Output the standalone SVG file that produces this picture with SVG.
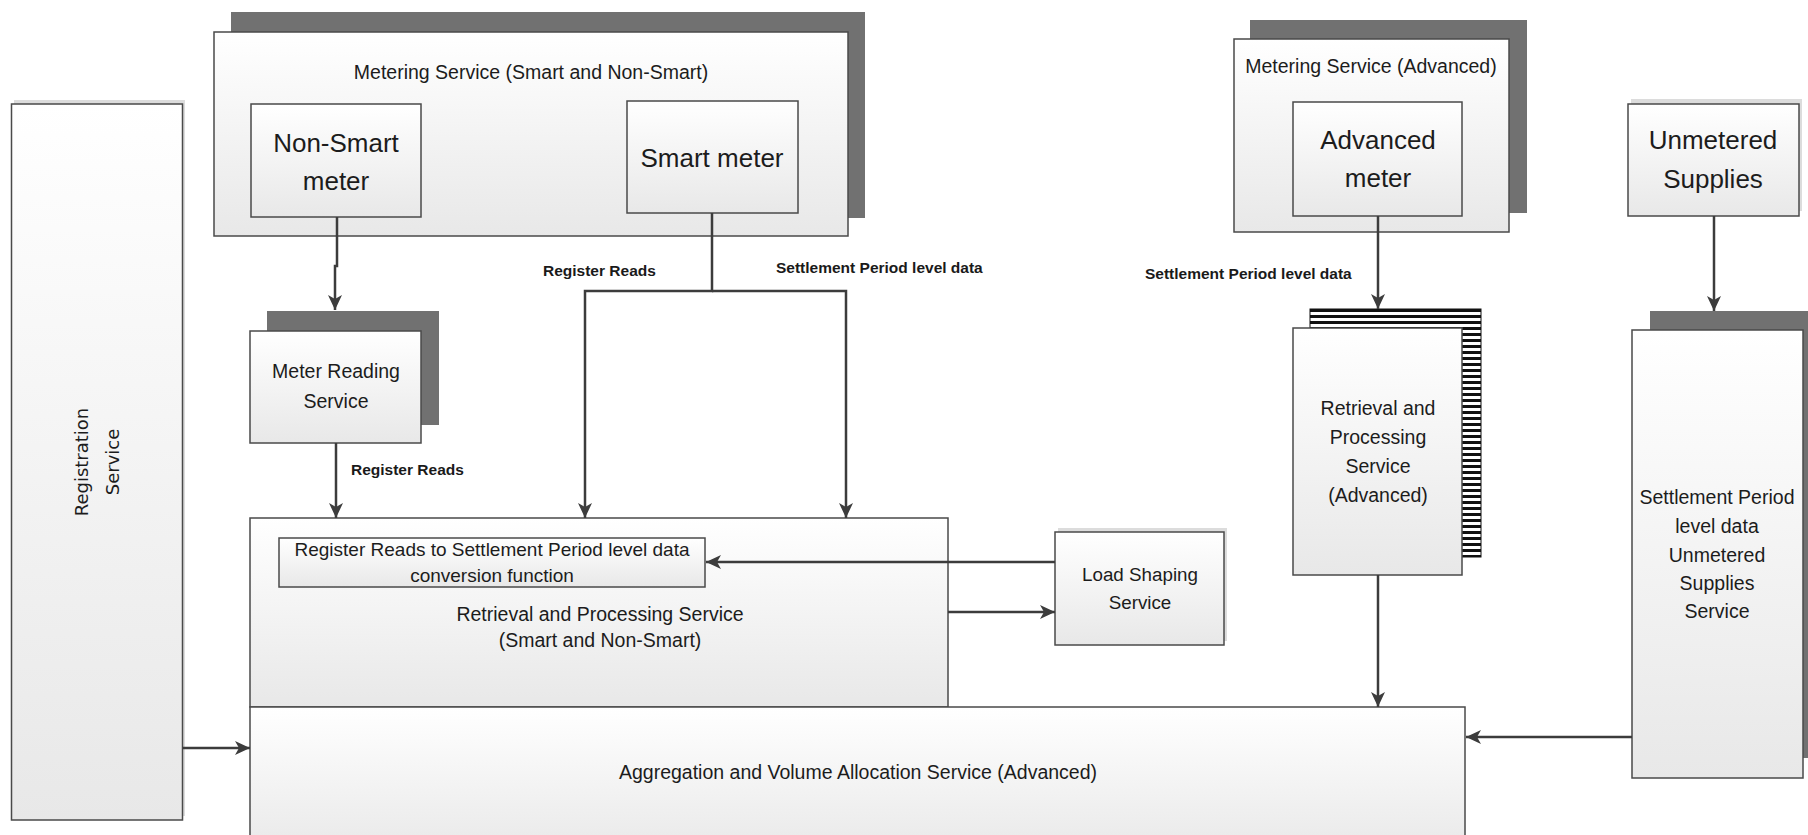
<svg xmlns="http://www.w3.org/2000/svg" width="1808" height="835" viewBox="0 0 1808 835">
  <defs>
    <linearGradient id="boxFill" x1="0" y1="0" x2="0" y2="1">
      <stop offset="0" stop-color="#ffffff"/>
      <stop offset="1" stop-color="#e8e8e8"/>
    </linearGradient>
    <pattern id="stripes" patternUnits="userSpaceOnUse" x="0" y="309" width="6" height="6">
      <rect x="0" y="0" width="6" height="6" fill="#ffffff"/>
      <rect x="0" y="0" width="6" height="3" fill="#111111"/>
    </pattern>
    <marker id="arrow" markerUnits="userSpaceOnUse" markerWidth="18" markerHeight="16" viewBox="-16 -8 18 16" refX="0" refY="0" orient="auto">
      <path d="M0,0 L-15,-7 L-11,0 L-15,7 Z" fill="#3c3c3c"/>
    </marker>
    <style>
      .box { fill: url(#boxFill); stroke: #4a4a4a; stroke-width: 1.5; }
      .shadow { fill: #717171; }
      .haze { fill: #dcdcdc; }
      .stripe { fill: url(#stripes); stroke: #111111; stroke-width: 1; }
      .t { font-family: "Liberation Sans", Arial, sans-serif; fill: #1c1c1c; text-anchor: middle; }
      .big { font-size: 26px; }
      .mid { font-size: 19.5px; }
      .lbl { font-family: "Liberation Sans", Arial, sans-serif; font-size: 15.5px; font-weight: bold; fill: #1a1a1a; }
      .rot { font-family: "DejaVu Sans", Verdana, sans-serif; font-size: 18px; fill: #1c1c1c; text-anchor: middle; }
      .conn { fill: none; stroke: #3c3c3c; stroke-width: 2.5; }
      .arr { marker-end: url(#arrow); }
    </style>
  </defs>

  <rect width="1808" height="835" fill="#ffffff"/>

  <!-- Registration Service -->
  <g id="registration-service">
    <rect class="haze" x="14" y="100" width="171" height="716"/>
    <rect class="box" x="11.5" y="104" width="171" height="716"/>
    <g transform="translate(97,462) rotate(-90)">
      <text class="rot" x="0" y="-9">Registration</text>
      <text class="rot" x="0" y="22">Service</text>
    </g>
  </g>

  <!-- Metering Service (Smart and Non-Smart) -->
  <g id="metering-service-smart">
    <rect class="shadow" x="231" y="12" width="634" height="206"/>
    <rect class="box" x="214" y="32" width="634" height="204"/>
    <text class="t mid" x="531" y="79">Metering Service (Smart and Non-Smart)</text>
  </g>

  <g id="non-smart-meter">
    <rect class="box" x="251" y="104" width="170" height="113"/>
    <text class="t big" x="336" y="152">Non-Smart</text>
    <text class="t big" x="336" y="190">meter</text>
  </g>

  <g id="smart-meter">
    <rect class="box" x="627" y="101" width="171" height="112"/>
    <text class="t big" x="712" y="167">Smart meter</text>
  </g>

  <!-- Meter Reading Service -->
  <g id="meter-reading-service">
    <rect class="shadow" x="267" y="311" width="172" height="114"/>
    <rect class="box" x="250" y="331" width="171" height="112"/>
    <text class="t mid" x="336" y="378">Meter Reading</text>
    <text class="t mid" x="336" y="408">Service</text>
  </g>

  <!-- Metering Service (Advanced) -->
  <g id="metering-service-advanced">
    <rect class="shadow" x="1250" y="20" width="277" height="193"/>
    <rect class="box" x="1234" y="39" width="275" height="193"/>
    <text class="t mid" x="1371" y="73">Metering Service (Advanced)</text>
  </g>

  <g id="advanced-meter">
    <rect class="box" x="1293" y="102" width="169" height="114"/>
    <text class="t big" x="1378" y="149">Advanced</text>
    <text class="t big" x="1378" y="187">meter</text>
  </g>

  <!-- Unmetered Supplies -->
  <g id="unmetered-supplies">
    <rect class="haze" x="1631" y="99" width="171" height="112"/>
    <rect class="box" x="1628" y="104" width="171" height="112"/>
    <text class="t big" x="1713" y="149">Unmetered</text>
    <text class="t big" x="1713" y="188">Supplies</text>
  </g>

  <!-- Retrieval and Processing Service (Advanced) -->
  <g id="retrieval-processing-advanced">
    <rect class="stripe" x="1310" y="309" width="171" height="248"/>
    <rect class="box" x="1293" y="328" width="169" height="247"/>
    <text class="t mid" x="1378" y="415">Retrieval and</text>
    <text class="t mid" x="1378" y="444">Processing</text>
    <text class="t mid" x="1378" y="473">Service</text>
    <text class="t mid" x="1378" y="502">(Advanced)</text>
  </g>

  <!-- Settlement Period level data Unmetered Supplies Service -->
  <g id="unmetered-supplies-service">
    <rect class="shadow" x="1650" y="311" width="171" height="447"/>
    <rect class="box" x="1632" y="330" width="171" height="448"/>
    <text class="t mid" x="1717" y="504">Settlement Period</text>
    <text class="t mid" x="1717" y="533">level data</text>
    <text class="t mid" x="1717" y="562">Unmetered</text>
    <text class="t mid" x="1717" y="590">Supplies</text>
    <text class="t mid" x="1717" y="618">Service</text>
  </g>

  <!-- Retrieval and Processing Service (Smart and Non-Smart) -->
  <g id="retrieval-processing-smart">
    <rect class="box" x="250" y="518" width="698" height="189"/>
    <text class="t mid" x="600" y="621">Retrieval and Processing Service</text>
    <text class="t mid" x="600" y="647">(Smart and Non-Smart)</text>
  </g>

  <g id="conversion-function">
    <rect class="box" x="279" y="538" width="426" height="49"/>
    <text class="t" style="font-size:19px" x="492" y="556">Register Reads to Settlement Period level data</text>
    <text class="t" style="font-size:19px" x="492" y="582">conversion function</text>
  </g>

  <!-- Load Shaping Service -->
  <g id="load-shaping-service">
    <rect class="haze" x="1058" y="528" width="169" height="113"/>
    <rect class="box" x="1055" y="532" width="169" height="113"/>
    <text class="t" style="font-size:18.8px" x="1140" y="581">Load Shaping</text>
    <text class="t" style="font-size:18.8px" x="1140" y="609">Service</text>
  </g>

  <!-- Aggregation and Volume Allocation Service (Advanced) -->
  <g id="aggregation-service">
    <rect class="box" x="250" y="707" width="1215" height="150"/>
    <text class="t mid" x="858" y="779">Aggregation and Volume Allocation Service (Advanced)</text>
  </g>

  <!-- Connectors -->
  <g id="connectors">
    <path class="conn arr" d="M337,217 V266 H335 V310"/>
    <path class="conn arr" d="M336,443 V518"/>
    <path class="conn arr" d="M712,213 V291 H585 V518"/>
    <path class="conn arr" d="M712,291 H846 V518"/>
    <path class="conn arr" d="M1378,216 V309"/>
    <path class="conn arr" d="M1714,216 V311"/>
    <path class="conn arr" d="M1378,575 V707"/>
    <path class="conn arr" d="M1632,737 H1466"/>
    <path class="conn arr" d="M182.5,748 H250"/>
    <path class="conn arr" d="M948,612 H1055"/>
    <path class="conn arr" d="M1055,562 H706"/>
  </g>

  <!-- Connector labels -->
  <g id="connector-labels">
    <text class="lbl" x="543" y="276">Register Reads</text>
    <text class="lbl" x="776" y="273">Settlement Period level data</text>
    <text class="lbl" x="1145" y="279">Settlement Period level data</text>
    <text class="lbl" x="351" y="475">Register Reads</text>
  </g>
</svg>
